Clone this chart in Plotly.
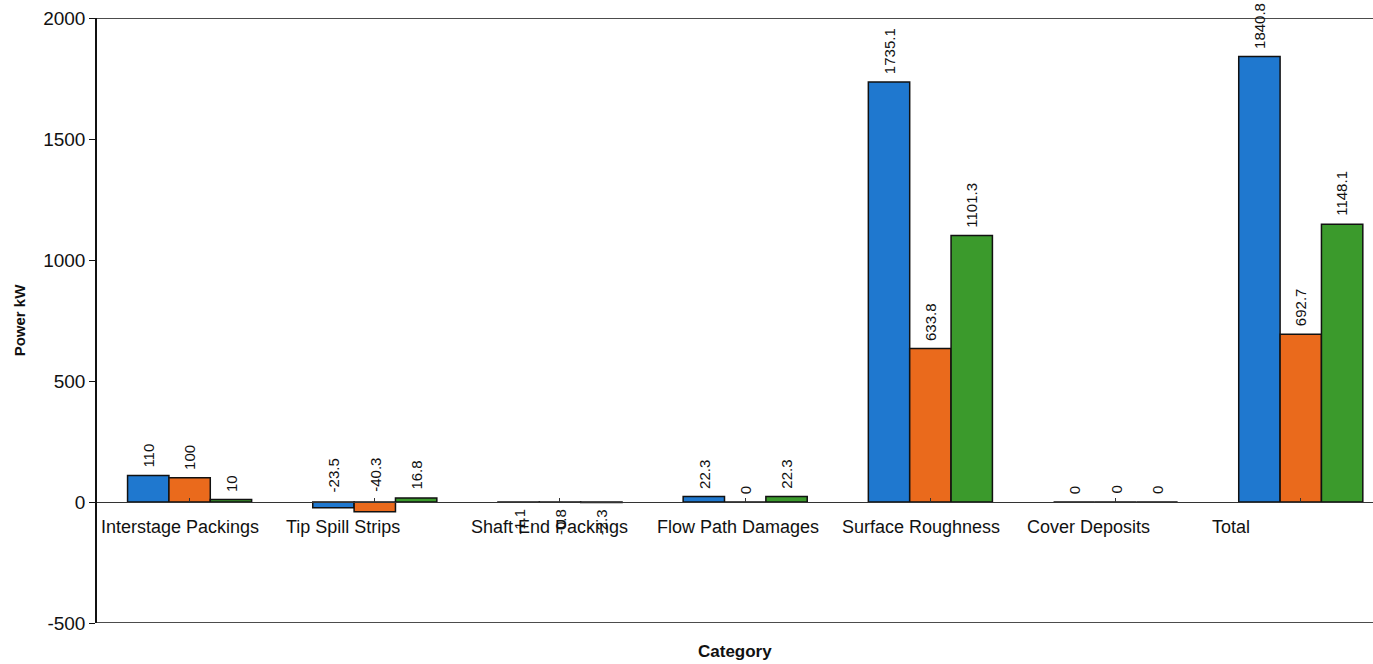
import plotly.graph_objects as go

categories = ["Interstage Packings", "Tip Spill Strips", "Shaft End Packings",
              "Flow Path Damages", "Surface Roughness", "Cover Deposits", "Total"]
series_a = [110, -23.5, -1.1, 22.3, 1735.1, 0, 1840.8]
series_b = [100, -40.3, -0.8, 0, 633.8, 0, 692.7]
series_c = [10, 16.8, -2.3, 22.3, 1101.3, 0, 1148.1]
series_names = ["Series 1", "Series 2", "Series 3"]
colors = ["#1f78cf", "#ea6a1c", "#3b9a2c"]
y_ticks = [-500, 0, 500, 1000, 1500, 2000]
y_tick_text = ["-500", "0", "500", "1000", "1500", "2000"]

FONT = "Liberation Sans, Arial, sans-serif"
fig = go.Figure()
all_series = [series_a, series_b, series_c]
for name, vals, col in zip(series_names, all_series, colors):
    fig.add_trace(go.Bar(
        x=list(range(len(categories))), y=vals, name=name,
        marker=dict(color=col, line=dict(color="#111111", width=1.5)),
        showlegend=False, hoverinfo="x+y",
    ))

# data labels (rotated), computed from values and bar offsets
group_w = 0.67
bw = group_w / 3
annotations = []
lab_font = dict(family=FONT, size=15, color="#111")
for si, vals in enumerate(all_series):
    for ci, v in enumerate(vals):
        xpos = ci - group_w / 2 + bw * (si + 0.5)
        if v >= 0:
            annotations.append(dict(x=xpos, y=v, text=f"{v:g}", textangle=-90,
                                    xanchor="center", yanchor="bottom", yshift=6,
                                    showarrow=False, font=lab_font))
        elif v <= -5:
            annotations.append(dict(x=xpos, y=0, text=f"{v:g}", textangle=-90,
                                    xanchor="center", yanchor="bottom", yshift=8,
                                    showarrow=False, font=lab_font))
        else:
            annotations.append(dict(x=xpos, y=0, text=f"{v:g}", textangle=-90,
                                    xanchor="center", yanchor="top", yshift=-5,
                                    showarrow=False, font=lab_font))

# category labels, left-aligned at category boundaries under the zero line
for ci, c in enumerate(categories):
    annotations.append(dict(x=ci - 0.5, y=0, text=c, xanchor="left", yanchor="top",
                            xshift=2, yshift=-13, showarrow=False,
                            font=dict(family=FONT, size=18, color="#111")))

annotations.append(dict(x=0.5, y=0, xref="paper", yref="paper", text="<b>Category</b>",
                        xanchor="center", yanchor="top", yshift=-17, showarrow=False,
                        font=dict(family=FONT, size=17, color="#111")))

fig.update_layout(
    width=1373, height=664,
    margin=dict(l=97, r=0, t=18, b=41, autoexpand=False),
    plot_bgcolor="white", paper_bgcolor="white",
    barmode="group", bargap=1 - group_w, bargroupgap=0,
    annotations=annotations,
    xaxis=dict(range=[-0.5, 6.39], tickmode="array", tickvals=list(range(len(categories))),
               showticklabels=False, tickson="boundaries", ticks="inside", ticklen=4,
               tickcolor="#333", showgrid=False, zeroline=False,
               showline=True, linecolor="#333", linewidth=1,
               anchor="free", position=0.2, automargin=False),
    yaxis=dict(range=[-500, 2000], tickmode="array", tickvals=y_ticks, ticktext=y_tick_text,
               ticks="outside", ticklen=6,
               tickcolor="#111", showgrid=False, zeroline=False,
               showline=True, linecolor="#111", linewidth=1.5, automargin=False,
               tickfont=dict(family=FONT, size=19, color="#111"),
               title=dict(text="<b>Power kW</b>", standoff=14,
                          font=dict(family=FONT, size=15, color="#111"))),
    shapes=[
        dict(type="line", xref="paper", yref="y", x0=0, x1=1, y0=2000, y1=2000,
             line=dict(color="#111", width=1.5)),
        dict(type="line", xref="paper", yref="y", x0=0, x1=1, y0=-500, y1=-500,
             line=dict(color="#111", width=1.5)),
    ],
)

fig.write_html("out.html", config={"displayModeBar": False},
               post_script="document.body.style.margin='0';document.body.style.overflow='hidden';")
